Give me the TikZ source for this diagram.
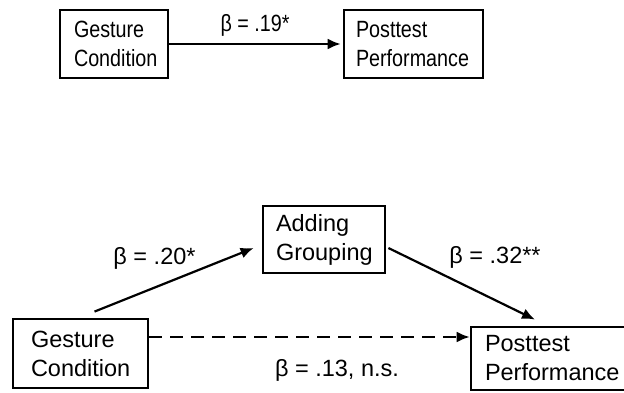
\documentclass[tikz,border=0pt]{standalone}
\usepackage{fontspec}
\setmainfont{Liberation Sans}
\newfontfamily\narrowsf[FakeStretch=0.84]{Liberation Sans}
\usetikzlibrary{arrows.meta,positioning}

\begin{document}
\begin{tikzpicture}[%
x=1pt, y=-1pt,
>={Latex[length=13pt,width=11pt]},
box/.style={draw, line width=2.8pt, align=left, inner ysep=0pt,
            font=\fontsize{23.5}{29}\selectfont},
topbox/.style={box, font=\narrowsf\fontsize{23.5}{29}\selectfont},
link/.style={->, line width=2.2pt},
coef/.style={inner sep=0pt, font=\fontsize{23.5}{29}\selectfont}
]
\useasboundingbox (0,0) rectangle (624,393);
\clip (0,0) rectangle (624,393);

% total effect
\node[topbox, text width=80pt, inner xsep=14pt, minimum height=68pt] (gest1) at (114,44) {Gesture\\Condition};
\node[topbox, text width=115pt, inner xsep=12pt, minimum height=68pt] (post1) at (413.5,44) {Posttest\\Performance};

\draw[link, shorten >=2pt] (gest1) -- (post1);
\node[coef, font=\narrowsf\fontsize{23.5}{29}\selectfont] (b1) at (255,25) {β = .19*};

% mediation
\node[box, text width=96pt, inner xsep=13pt, minimum height=67pt] (add) at (324,239.5) {Adding\\Grouping};
\node[box, text width=99pt, inner xsep=18pt, minimum height=69pt] (gest2) at (80.5,353.5) {Gesture\\Condition};
\node[box, text width=160pt, inner xsep=14pt, minimum height=63pt] (post2) at (565,358.5) {Posttest\\Performance};

\draw[link] ([xshift=14pt,yshift=6pt]gest2.north) -- ([xshift=-8pt,yshift=-8.5pt]add.west);
\draw[link] ([xshift=2pt,yshift=-8.5pt]add.east) -- ([xshift=-30pt,yshift=6pt]post2.north);

\coordinate (d0) at ([yshift=16.5pt]gest2.east);
\draw[link, dash pattern=on 13pt off 8pt] (d0) -- (d0 -| post2.west);

\node[coef] (b2) at (154.5,258) {β = .20*};
\node[coef] (b3) at (495,257) {β = .32**};
\node[coef] (b4) at (337,370) {β = .13, n.s.};
\end{tikzpicture}
\end{document}
